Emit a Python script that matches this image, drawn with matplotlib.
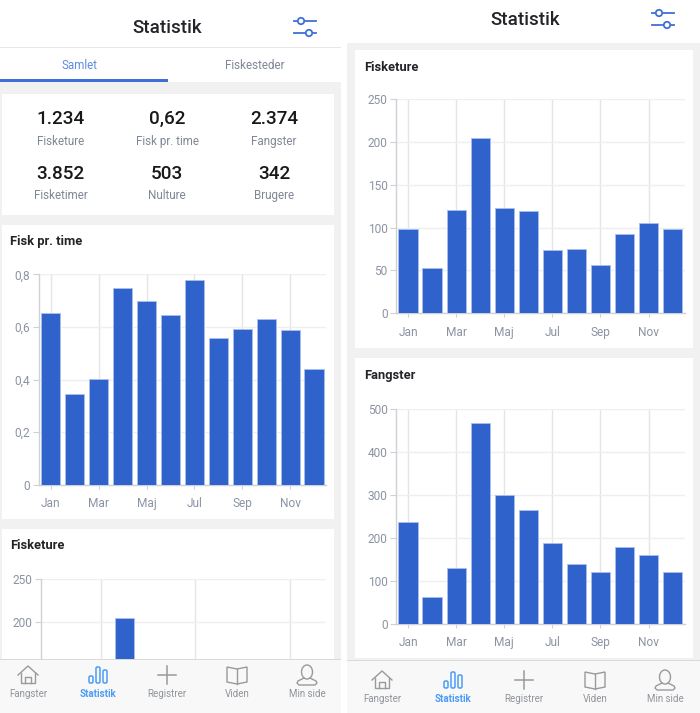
import matplotlib
matplotlib.use("Agg")
import matplotlib.pyplot as plt
from matplotlib.patches import Rectangle, Circle, FancyBboxPatch, Arc, Polygon

plt.rcParams['font.family'] = ['Roboto', 'DejaVu Sans']

months = ['Jan', 'Feb', 'Mar', 'Apr', 'Maj', 'Jun', 'Jul', 'Aug', 'Sep', 'Okt', 'Nov', 'Dec']
fisk_pr_time = [0.653, 0.346, 0.403, 0.747, 0.699, 0.647, 0.778, 0.558, 0.592, 0.63, 0.59, 0.442]
fisketure = [98, 53, 120, 205, 123, 119, 74, 75, 56, 92, 105, 98]
fangster = [237, 63, 130, 467, 299, 264, 189, 140, 120, 178, 160, 120]
stat_values = ['1.234', '0,62', '2.374', '3.852', '503', '342']
stat_labels = ['Fisketure', 'Fisk pr. time', 'Fangster', 'Fisketimer', 'Nulture', 'Brugere']
nav_labels = ['Fangster', 'Statistik', 'Registrer', 'Viden', 'Min side']

W, H = 700, 713
BLUE = '#3062cc'
EDGE = '#a9c0ee'
GRID = '#eeeff1'
VGRID = '#e4e5e8'
AXIS = '#cfd1d6'
TICK = '#8b93a3'
PAGE = '#f1f1f1'
DARK = '#222428'
ACCENT = '#3f6fd8'
NAVG = '#9a9a9a'
NAVB = '#4d9cf5'

fig = plt.figure(figsize=(W / 100, H / 100), dpi=100, facecolor='white')


def layer(z):
    a = fig.add_axes([0, 0, 1, 1], zorder=z)
    a.set_xlim(0, W)
    a.set_ylim(H, 0)
    a.axis('off')
    a.patch.set_alpha(0)
    return a


bg = layer(0)
top = layer(10)


def rect(a, x0, y0, x1, y1, c):
    a.add_patch(Rectangle((x0, y0), x1 - x0, y1 - y0, fc=c, ec='none'))


def txt(a, x, y, s, size, color, weight='normal', ha='center'):
    a.text(x, y - 0.7, s, fontsize=size, color=color, fontweight=weight, ha=ha, va='center_baseline')


# page backgrounds and cards
rect(bg, 0, 82, 341, 660, PAGE)
rect(bg, 347, 43, 700, 660, PAGE)
rect(bg, 0, 46.5, 341, 48, '#e6e6e6')
rect(bg, 0, 79, 168, 81.5, ACCENT)
for box in [(2, 94, 334, 215), (2, 225, 334, 519), (2, 529, 334, 660),
            (355, 50, 693, 348), (355, 358, 693, 658)]:
    rect(bg, *box, 'white')

txt(bg, 167, 27, 'Statistik', 13.5, DARK, 'medium')
txt(bg, 525, 18.5, 'Statistik', 13.5, DARK, 'medium')
txt(bg, 80, 64.5, 'Samlet', 8.4, '#5f8be0')
txt(bg, 254.5, 64.5, 'Fiskesteder', 8.4, '#7f8794')

stat_x = [60.5, 167, 274]
stat_y = [(118, 140.5), (172.5, 195)]
for i, (v, l) in enumerate(zip(stat_values, stat_labels)):
    yv, yl = stat_y[i // 3]
    txt(bg, stat_x[i % 3], yv, v, 13.6, '#17181a', 'medium')
    txt(bg, stat_x[i % 3], yl, l, 8.4, '#7f8794')

for x, y, s in [(10, 240.5, 'Fisk pr. time'), (10, 545, 'Fisketure'),
                (364, 67, 'Fisketure'), (364, 374.5, 'Fangster')]:
    txt(bg, x, y, s, 9.3, DARK, 'bold', 'left')


def chart(x0, x1, ytop, ybot, vals, ylim, yticks, ylabels, xticks):
    ax = fig.add_axes([x0 / W, 1 - ybot / H, (x1 - x0) / W, (ybot - ytop) / H], zorder=2)
    ax.patch.set_alpha(0)
    ax.bar(range(12), vals, width=0.8, color=BLUE, edgecolor=EDGE, linewidth=0.6, zorder=3)
    ax.set_xlim(-0.5, 11.5)
    ax.set_ylim(*ylim)
    ax.set_yticks(yticks)
    ax.set_yticklabels(ylabels)
    ax.set_xticks(xticks)
    ax.set_xticklabels([months[i] for i in xticks])
    ax.grid(True, axis='y', color=GRID, linewidth=1, zorder=0)
    ax.grid(True, axis='x', color=VGRID, linewidth=1, zorder=0)
    ax.set_axisbelow(True)
    for s in ['top', 'right']:
        ax.spines[s].set_visible(False)
    for s in ['left', 'bottom']:
        ax.spines[s].set_color(AXIS)
        ax.spines[s].set_linewidth(1)
    ax.tick_params(axis='y', length=4, width=0.8, color=AXIS, labelcolor=TICK, labelsize=8.6, pad=2)
    ax.tick_params(axis='x', length=3, width=0.8, color=AXIS, labelcolor=TICK, labelsize=8.6, pad=6)
    return ax


even = [0, 2, 4, 6, 8, 10]
chart(38.8, 326, 274.5, 484.7, fisk_pr_time, (0, 0.8), [0, .2, .4, .6, .8],
      ['0', '0,2', '0,4', '0,6', '0,8'], even)
chart(396.0, 684.7, 99, 313.3, fisketure, (0, 250), [0, 50, 100, 150, 200, 250],
      ['0', '50', '100', '150', '200', '250'], even)
chart(396.0, 684.7, 409.3, 623.7, fangster, (0, 500), [0, 100, 200, 300, 400, 500],
      ['0', '100', '200', '300', '400', '500'], even)
# partly scrolled chart, cut off by the tab bar
part = chart(41.2, 326, 579.3, 660, fisketure, (155, 250), [200, 250], ['200', '250'], [2, 6, 10])
part.spines['bottom'].set_visible(False)
part.tick_params(axis='x', length=0, labelbottom=False)


# sliders icon
def sliders(cx, cy):
    y1, y2 = cy - 6, cy + 6
    top.plot([cx - 11, cx + 11], [y1, y1], color=ACCENT, lw=1.3, zorder=1)
    top.plot([cx - 11, cx + 11], [y2, y2], color=ACCENT, lw=1.3, zorder=1)
    top.add_patch(Circle((cx - 4, y1), 3.2, fc='white', ec=ACCENT, lw=1.3, zorder=2))
    top.add_patch(Circle((cx + 4, y2), 3.2, fc='white', ec=ACCENT, lw=1.3, zorder=2))


sliders(305, 27)
sliders(663, 19)


def house(cx, cy):
    top.plot([cx - 10, cx, cx + 10], [cy, cy - 9, cy], color=NAVG, lw=1, zorder=2)
    top.plot([cx - 7, cx - 7, cx + 7, cx + 7], [cy - 2, cy + 8, cy + 8, cy - 2], color=NAVG, lw=1, zorder=2)
    top.plot([cx - 3, cx - 3, cx + 3, cx + 3], [cy + 8, cy + 2, cy + 2, cy + 8], color=NAVG, lw=1, zorder=2)


def bars(cx, cy):
    for dx, y0 in [(-7, cy + 1), (0, cy - 8), (7, cy - 5)]:
        top.add_patch(FancyBboxPatch((cx + dx - 2, y0), 4, cy + 8 - y0,
                                     boxstyle='round,pad=0,rounding_size=1.5',
                                     fc='none', ec=NAVB, lw=1.1, zorder=2))


def plus(cx, cy):
    top.plot([cx - 9, cx + 9], [cy, cy], color=NAVG, lw=1.1, zorder=2)
    top.plot([cx, cx], [cy - 9, cy + 9], color=NAVG, lw=1.1, zorder=2)


def book(cx, cy):
    top.add_patch(Polygon([(cx - 10, cy - 8), (cx, cy - 6), (cx + 10, cy - 8), (cx + 10, cy + 7),
                           (cx, cy + 9), (cx - 10, cy + 7)], closed=True, fc='none', ec=NAVG, lw=1, zorder=2))
    top.plot([cx, cx], [cy - 6, cy + 9], color=NAVG, lw=1, zorder=2)


def person(cx, cy):
    top.add_patch(Arc((cx, cy - 3), 11, 14, fc='none', ec=NAVG, lw=1, zorder=2))
    top.plot([cx - 3, cx - 9, cx - 10, cx - 8, cx + 8, cx + 10, cx + 9, cx + 3],
             [cy + 3, cy + 6, cy + 8, cy + 10, cy + 10, cy + 8, cy + 6, cy + 3], color=NAVG, lw=1, zorder=2)


icons = [house, bars, plus, book, person]


def navbar(x0, x1, ytop, xs, ylabel, yicon):
    rect(top, x0, ytop, x1, H, '#f8f8f8')
    rect(top, x0, ytop - 0.5, x1, ytop + 0.5, '#d9d9d9')
    for i, (x, lab) in enumerate(zip(xs, nav_labels)):
        active = i == 1
        txt(top, x, ylabel, lab, 7, NAVB if active else '#8f949b', 'bold' if active else 'normal')
        icons[i](x, yicon)


navbar(0, 341, 659.5, [28, 98, 167, 237, 307], 694, 675)
navbar(347, 700, 660, [382, 453, 524, 595, 665], 699, 680)

fig.savefig('out.png', dpi=100)
